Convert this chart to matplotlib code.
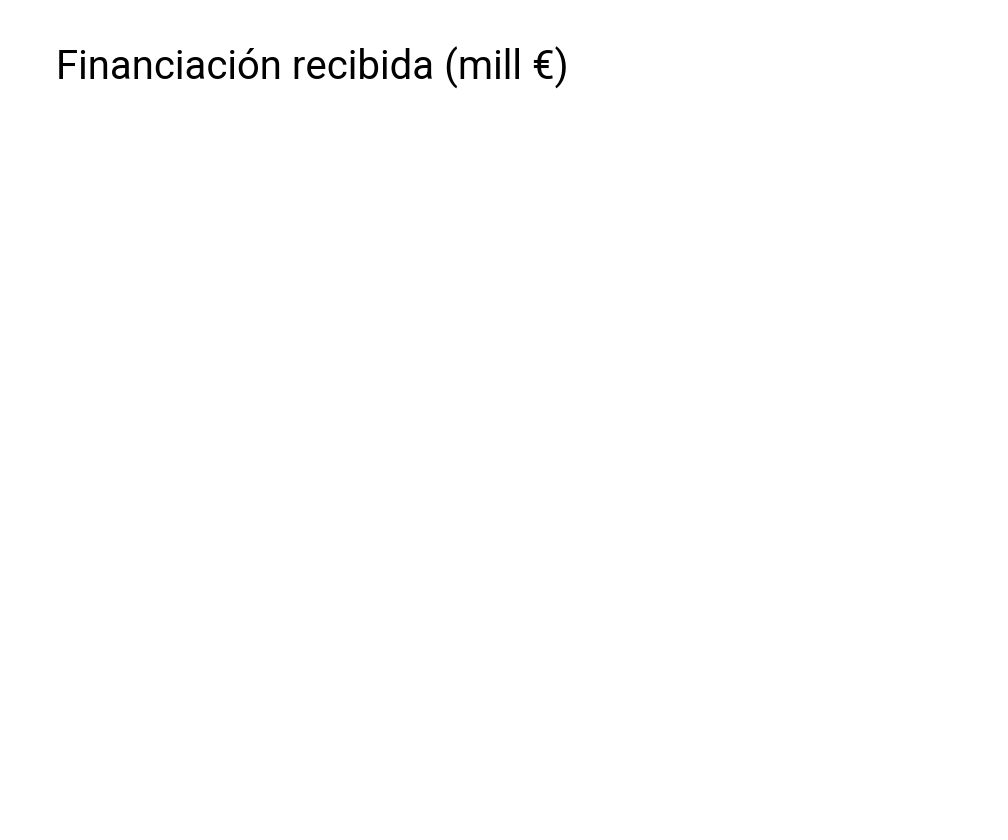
import matplotlib
matplotlib.use("Agg")
import matplotlib.pyplot as plt

# The reference shows only a title; the plotting area carries no marks.
title = "Financiación recibida (mill €)"
categories = []
values = []

plt.rcParams["font.family"] = ["Roboto", "DejaVu Sans"]

fig = plt.figure(figsize=(10.08, 8.4), dpi=100)
fig.patch.set_facecolor("white")

ax = fig.add_axes([0.06, 0.05, 0.9, 0.8])
ax.bar(categories, values)
ax.set_axis_off()

fig.text(56.5 / 1008, 1 - 79.5 / 840, title, fontsize=28.9, color="black",
         ha="left", va="baseline")

fig.savefig("out.png", dpi=100, facecolor="white")
